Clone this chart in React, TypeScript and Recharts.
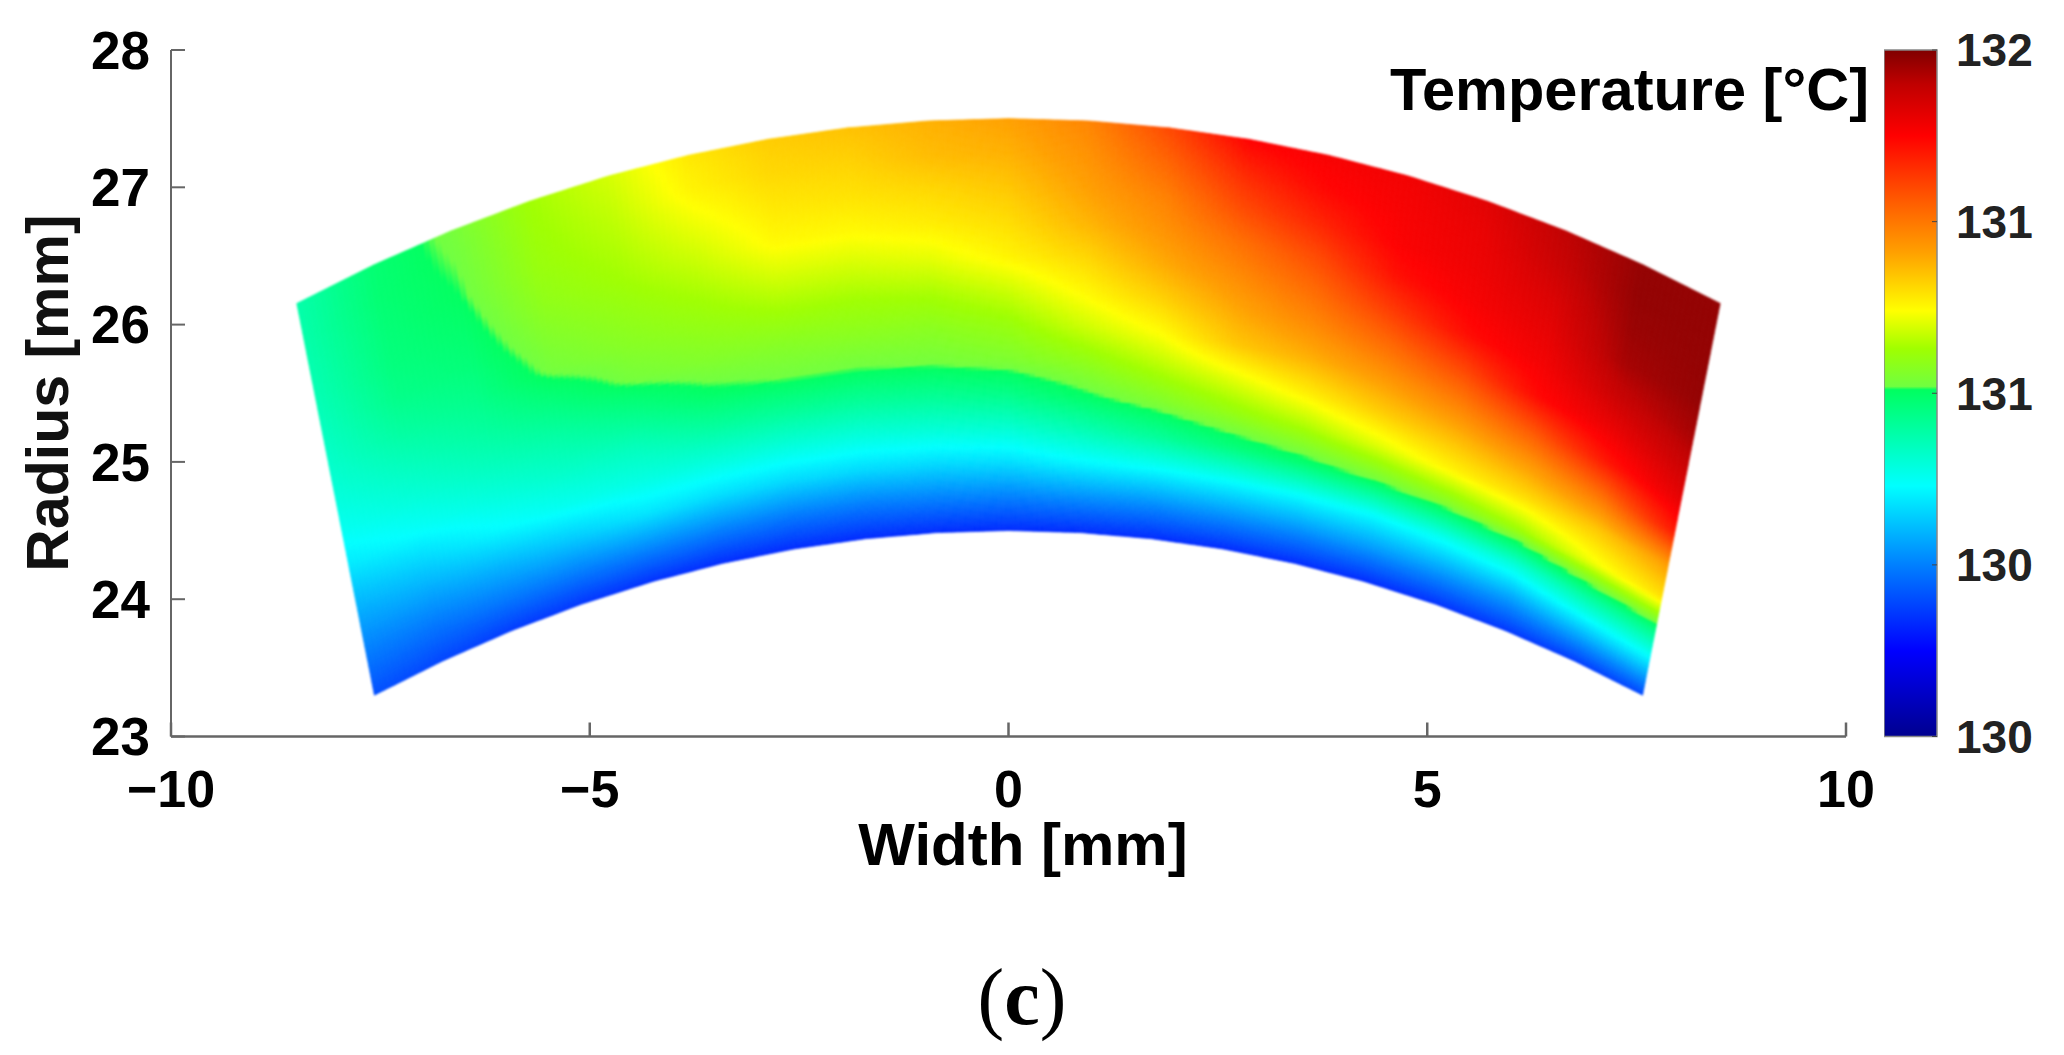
import React from 'react';
import { Bar, BarChart, Scatter, ScatterChart, XAxis, YAxis } from 'recharts';

// polar mesh of the sector, temperature per angle column
const angles = [-18, -16, -14, -12, -10, -8, -6, -4, -2, 0, 2, 4, 6, 8, 10, 12, 14, 16, 18];
const radii = [24.5, 24.75, 25, 25.25, 25.5, 25.75, 26, 26.25, 26.5, 26.75, 27, 27.25, 27.5];
const tempByAngle = [
  [130.4, 130.47, 130.54, 130.61, 130.69, 130.75, 130.79, 130.82, 130.84, 130.86, 130.87, 130.88, 130.88],
  [130.38, 130.47, 130.56, 130.65, 130.74, 130.8, 130.85, 130.9, 130.94, 130.96, 130.97, 130.98, 130.98],
  [130.36, 130.49, 130.6, 130.72, 130.79, 130.85, 130.9, 130.94, 130.97, 130.99, 131.01, 131.02, 131.03],
  [130.35, 130.5, 130.64, 130.76, 130.83, 130.89, 130.96, 131.03, 131.06, 131.09, 131.11, 131.12, 131.13],
  [130.34, 130.51, 130.68, 130.78, 130.85, 130.94, 131.03, 131.07, 131.1, 131.13, 131.15, 131.17, 131.19],
  [130.33, 130.5, 130.67, 130.79, 130.9, 131.0, 131.06, 131.1, 131.14, 131.18, 131.22, 131.26, 131.28],
  [130.33, 130.49, 130.66, 130.79, 130.91, 131.02, 131.07, 131.13, 131.19, 131.25, 131.28, 131.31, 131.33],
  [130.33, 130.49, 130.66, 130.79, 130.91, 131.02, 131.08, 131.13, 131.19, 131.25, 131.29, 131.32, 131.35],
  [130.33, 130.5, 130.66, 130.8, 130.92, 131.03, 131.08, 131.14, 131.21, 131.27, 131.31, 131.36, 131.38],
  [130.33, 130.5, 130.67, 130.81, 130.94, 131.05, 131.11, 131.18, 131.26, 131.3, 131.34, 131.38, 131.41],
  [130.33, 130.52, 130.71, 130.86, 131.0, 131.09, 131.18, 131.25, 131.31, 131.37, 131.41, 131.44, 131.47],
  [130.33, 130.52, 130.72, 130.91, 131.05, 131.15, 131.24, 131.32, 131.39, 131.44, 131.48, 131.54, 131.6],
  [130.33, 130.53, 130.73, 130.96, 131.1, 131.21, 131.34, 131.4, 131.46, 131.52, 131.6, 131.67, 131.75],
  [130.33, 130.53, 130.73, 130.99, 131.14, 131.27, 131.38, 131.46, 131.53, 131.6, 131.68, 131.74, 131.77],
  [130.33, 130.54, 130.73, 131.02, 131.2, 131.33, 131.43, 131.53, 131.63, 131.72, 131.76, 131.77, 131.78],
  [130.34, 130.55, 130.76, 131.06, 131.26, 131.37, 131.49, 131.61, 131.73, 131.77, 131.79, 131.8, 131.82],
  [130.35, 130.56, 130.8, 131.12, 131.3, 131.43, 131.58, 131.74, 131.78, 131.81, 131.84, 131.88, 131.9],
  [130.36, 130.63, 130.9, 131.22, 131.34, 131.52, 131.71, 131.8, 131.88, 131.94, 131.96, 131.97, 131.97],
  [130.38, 130.68, 130.95, 131.29, 131.42, 131.7, 131.81, 131.88, 131.94, 131.97, 131.97, 131.97, 131.97],
];

const xTicks = [-10, -5, 0, 5, 10];
const yTicks = [23, 24, 25, 26, 27, 28];
const barTicks = [130, 130.5, 131, 131.5, 132];
const barTickLabels = ['130', '130', '131', '131', '132'];

// colour map as seen on the colour bar (has a jump in the green)
const mapTemps = [130, 130.25, 130.5, 130.73, 131.01, 131.02, 131.13, 131.24, 131.41, 131.55, 131.75, 131.9, 132];
const mapColors = [
  [0, 0, 143], [0, 0, 255], [0, 128, 255], [0, 255, 255], [0, 255, 96], [112, 255, 64], [160, 255, 0],
  [255, 255, 0], [255, 160, 0], [255, 96, 0], [255, 0, 0], [192, 0, 0], [128, 0, 0],
];

const toColor = (temp: number) => {
  let i = 0;
  while (i < mapTemps.length - 2 && temp > mapTemps[i + 1]) i++;
  const f = Math.min(1, Math.max(0, (temp - mapTemps[i]) / (mapTemps[i + 1] - mapTemps[i])));
  const c = mapColors[i].map((v, k) => Math.round(v + (mapColors[i + 1][k] - v) * f));
  return `rgb(${c[0]},${c[1]},${c[2]})`;
};

const meshNodes = angles.flatMap((deg) =>
  radii.map((r) => ({
    x: r * Math.sin((deg * Math.PI) / 180),
    y: r * Math.cos((deg * Math.PI) / 180),
  })),
);

const SUB_A = 14;
const SUB_R = 10;

// gets the nodes in pixels from the Scatter and shades each mesh cell, like MATLAB's "shading interp"
const ShadedMesh = ({ points }: any) => {
  const cells: React.ReactElement[] = [];
  const nR = radii.length;
  const at = (a: number, r: number) => points[a * nR + r];
  for (let a = 0; a < angles.length - 1; a++) {
    for (let r = 0; r < nR - 1; r++) {
      const p00 = at(a, r);
      const p10 = at(a + 1, r);
      const p01 = at(a, r + 1);
      const p11 = at(a + 1, r + 1);
      const blend = (u: number, v: number, q00: number, q10: number, q01: number, q11: number) =>
        q00 * (1 - u) * (1 - v) + q10 * u * (1 - v) + q01 * (1 - u) * v + q11 * u * v;
      const pos = (u: number, v: number) =>
        `${blend(u, v, p00.x, p10.x, p01.x, p11.x).toFixed(1)},${blend(u, v, p00.y, p10.y, p01.y, p11.y).toFixed(1)}`;
      for (let i = 0; i < SUB_A; i++) {
        for (let j = 0; j < SUB_R; j++) {
          const u0 = i / SUB_A;
          const u1 = (i + 1) / SUB_A;
          const v0 = j / SUB_R;
          const v1 = (j + 1) / SUB_R;
          const temp = blend(
            (u0 + u1) / 2,
            (v0 + v1) / 2,
            tempByAngle[a][r],
            tempByAngle[a + 1][r],
            tempByAngle[a][r + 1],
            tempByAngle[a + 1][r + 1],
          );
          const color = toColor(temp);
          cells.push(
            <polygon
              key={`${a}-${r}-${i}-${j}`}
              points={`${pos(u0, v0)} ${pos(u1, v0)} ${pos(u1, v1)} ${pos(u0, v1)}`}
              fill={color}
              stroke={color}
              strokeWidth={0.7}
            />,
          );
        }
      }
    }
  }
  // the reference is a soft raster, a small blur hides the cell steps too
  return <g style={{ filter: 'blur(1.3px)' }}>{cells}</g>;
};

const font = '"Liberation Sans", Arial, sans-serif';
const axisColor = '#666';

export default function App() {
  return (
    <div style={{ position: 'absolute', left: 0, top: 0, width: 2064, height: 1055, background: '#fff' }}>
      <div style={{ position: 'absolute', left: 0, top: 0 }}>
        <ScatterChart width={2064} height={1055} margin={{ top: 50, right: 218, left: 0, bottom: 0 }}>
          <XAxis
            type="number"
            dataKey="x"
            domain={[-10, 10]}
            ticks={xTicks}
            interval={0}
            stroke={axisColor}
            strokeWidth={2.5}
            height={318.5}
            tickSize={-14}
            tickMargin={48}
            tickFormatter={(v: number) => (v < 0 ? `\u2212${Math.abs(v)}` : `${v}`)}
            tick={{ fontFamily: font, fontWeight: 700, fontSize: 52, fill: '#000' }}
          />
          <YAxis
            type="number"
            dataKey="y"
            domain={[23, 28]}
            ticks={yTicks}
            interval={0}
            stroke={axisColor}
            strokeWidth={2}
            width={171}
            tickSize={-14}
            tickMargin={35}
            tick={{ fontFamily: font, fontWeight: 700, fontSize: 53, fill: '#000' }}
          />
          <Scatter
            data={meshNodes}
            isAnimationActive={false}
            shape={() => <g />}
            line={(props: any) => <ShadedMesh points={props.points} />}
          />
          <text x={1023} y={865} textAnchor="middle" fontFamily={font} fontWeight={700} fontSize={60} fill="#000">
            Width [mm]
          </text>
          <text
            transform="translate(68 393) rotate(-90)"
            textAnchor="middle"
            fontFamily={font}
            fontWeight={700}
            fontSize={59}
            fill="#111"
          >
            Radius [mm]
          </text>
          <text x={1869} y={110} textAnchor="end" fontFamily={font} fontWeight={700} fontSize={59.5} fill="#000">
            Temperature [°C]
          </text>
          <text x={1022} y={1024} textAnchor="middle" fontFamily='"Liberation Serif", serif' fontSize={80} fill="#000">
            (<tspan fontWeight={700}>c</tspan>)
          </text>
        </ScatterChart>
      </div>
      <div style={{ position: 'absolute', left: 1884, top: 0 }}>
        <BarChart
          width={180}
          height={790}
          data={[{ range: [barTicks[0], barTicks[barTicks.length - 1]] }]}
          margin={{ top: 50, right: 0, left: 0, bottom: 53.5 }}
          barCategoryGap={0}
        >
          <defs>
            <linearGradient id="colorbarFill" x1="0" y1="1" x2="0" y2="0">
              {mapTemps.map((t, i) => (
                <stop key={t} offset={(t - 130) / 2} stopColor={`rgb(${mapColors[i].join(',')})`} />
              ))}
            </linearGradient>
          </defs>
          <XAxis hide />
          <YAxis
            orientation="right"
            type="number"
            domain={[130, 132]}
            ticks={barTicks}
            interval={0}
            width={127}
            axisLine={false}
            stroke="#444"
            tickSize={-5}
            tickMargin={24}
            tickFormatter={(_v: number, i: number) => barTickLabels[i]}
            tick={{ fontFamily: font, fontWeight: 700, fontSize: 46, fill: '#222' }}
          />
          <Bar dataKey="range" fill="url(#colorbarFill)" stroke="#888" strokeWidth={1.5} isAnimationActive={false} />
        </BarChart>
      </div>
    </div>
  );
}
